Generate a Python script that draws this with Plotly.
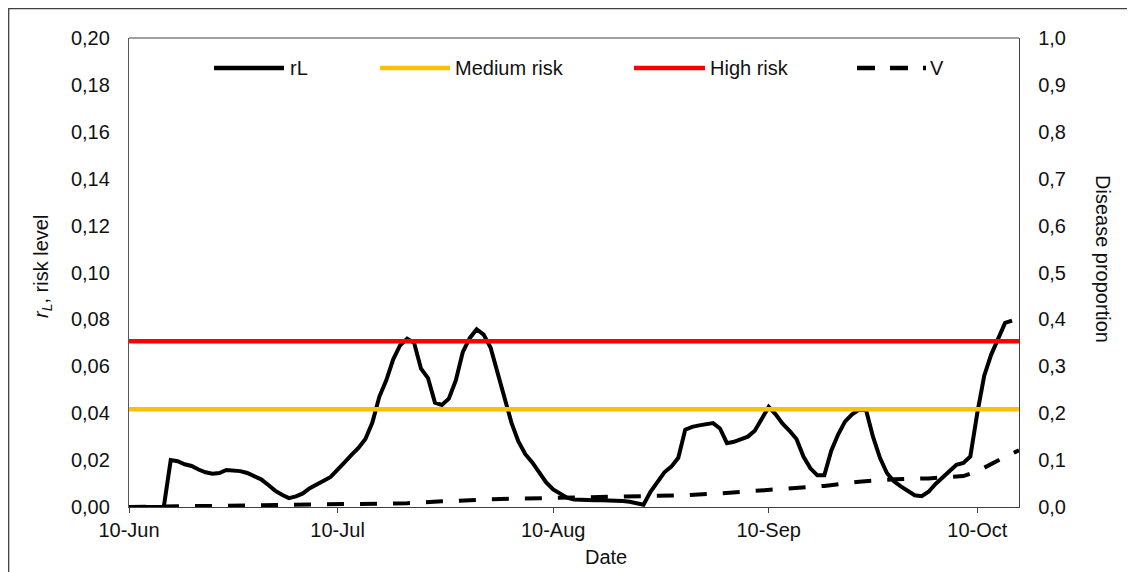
import pandas as pd
import plotly.graph_objects as go

# ---------------- data ----------------
start_date = "2020-06-10"
end_date = "2020-10-16"

rl_values = [
    0.0, 0.0, 0.0, 0.0, 0.0, 0.0, 0.0200, 0.0195, 0.0182, 0.0175,
    0.0160, 0.0148, 0.0142, 0.0145, 0.0158, 0.0156, 0.0153, 0.0145, 0.0133, 0.0118,
    0.0095, 0.0070, 0.0052, 0.0038, 0.0045, 0.0058, 0.0080, 0.0098, 0.0112, 0.0128,
    0.0157, 0.0190, 0.0222, 0.0252, 0.0290, 0.0360, 0.0470, 0.0540, 0.0630, 0.0690,
    0.0718, 0.0700, 0.0590, 0.0550, 0.0445, 0.0435, 0.0462, 0.0540, 0.0660, 0.0720,
    0.0758, 0.0735, 0.0680, 0.0570, 0.0460, 0.0360, 0.0280, 0.0225, 0.0190, 0.0145,
    0.0105, 0.0075, 0.0055, 0.0040, 0.0032, 0.0030, 0.0029, 0.0029, 0.0029, 0.0029,
    0.0029, 0.0026, 0.0022, 0.0016, 0.0010, 0.0065, 0.0110, 0.0148, 0.0172, 0.0210,
    0.0330, 0.0342, 0.0348, 0.0352, 0.0358, 0.0335, 0.0272, 0.0278, 0.0290, 0.0300,
    0.0325, 0.0375, 0.0427, 0.0395, 0.0355, 0.0325, 0.0290, 0.0215, 0.0165, 0.0135,
    0.0135, 0.0240, 0.0310, 0.0365, 0.0395, 0.0415, 0.0414, 0.0300, 0.0210, 0.0145,
    0.0110, 0.0088, 0.0068, 0.0050, 0.0046, 0.0065, 0.0098, 0.0125, 0.0155, 0.0180,
    0.0188, 0.0215, 0.0400, 0.0560, 0.0650, 0.0720, 0.0785, 0.0795,
]

v_dates = [
    "2020-06-10", "2020-06-15", "2020-06-20", "2020-06-25", "2020-06-30",
    "2020-07-05", "2020-07-10", "2020-07-15", "2020-07-20", "2020-07-25",
    "2020-07-30", "2020-08-04", "2020-08-09", "2020-08-14", "2020-08-19",
    "2020-08-24", "2020-08-29", "2020-09-03", "2020-09-08", "2020-09-13",
    "2020-09-18", "2020-09-23", "2020-09-28", "2020-10-03", "2020-10-08",
    "2020-10-10", "2020-10-12", "2020-10-14", "2020-10-16",
]
v_values = [
    0.000, 0.001, 0.002, 0.002, 0.003,
    0.003, 0.004, 0.006, 0.008, 0.012,
    0.016, 0.018, 0.019, 0.020, 0.021,
    0.023, 0.025, 0.029, 0.035, 0.040,
    0.045, 0.054, 0.059, 0.061, 0.066,
    0.076, 0.092, 0.107, 0.121,
]

medium_level = [0.0417, 0.0417]
high_level = [0.0707, 0.0707]
level_dates = [start_date, end_date]

tick_dates = ["2020-06-10", "2020-07-10", "2020-08-10", "2020-09-10", "2020-10-10"]
tick_labels = ["10-Jun", "10-Jul", "10-Aug", "10-Sep", "10-Oct"]

rl_dates = pd.date_range(start_date, periods=len(rl_values), freq="D")

# ---------------- figure ----------------
FONT = "Liberation Sans, Arial, sans-serif"
TXT = "#111111"
FS = 20

fig = go.Figure()
fig.add_trace(go.Scatter(x=rl_dates, y=rl_values, mode="lines", name="rL",
                         line=dict(color="black", width=4)))
fig.add_trace(go.Scatter(x=level_dates, y=medium_level, mode="lines", name="Medium risk",
                         line=dict(color="#FFC000", width=4.5)))
fig.add_trace(go.Scatter(x=level_dates, y=high_level, mode="lines", name="High risk",
                         line=dict(color="#FF0000", width=4.5)))
fig.add_trace(go.Scatter(x=v_dates, y=v_values, mode="lines", name="V", yaxis="y2",
                         line=dict(color="black", width=4, dash="17px,16px")))

# page has an 8px body margin: figure drawn from page (8, 8)
OFF = 8
W, H = 1135 - OFF, 572 - OFF
PLOT_L, PLOT_R, PLOT_T, PLOT_B = 129, 1019, 38, 507  # page pixels
ML, MT = PLOT_L - OFF, PLOT_T - OFF
PW, PH = PLOT_R - PLOT_L, PLOT_B - PLOT_T
MR = W - ML - PW
MB = H - MT - PH

def px(x):
    return (x - PLOT_L) / PW

def py(y):
    return (PLOT_B - y) / PH

fig.update_layout(
    width=W, height=H,
    margin=dict(l=ML, r=MR, t=MT, b=MB, autoexpand=False),
    paper_bgcolor="white", plot_bgcolor="white",
    showlegend=False,
    separators=", ",
    font=dict(family=FONT, size=FS, color=TXT),
    xaxis=dict(
        type="date", range=[start_date, end_date],
        tickvals=tick_dates, ticktext=tick_labels,
        ticks="outside", ticklen=5, tickcolor="#404040", tickwidth=1.3,
        showline=True, linecolor="#404040", linewidth=1.3,
        showgrid=False, zeroline=False,
        tickfont=dict(size=FS, color=TXT, family=FONT),
        ticklabelstandoff=0,
    ),
    yaxis=dict(
        range=[0, 0.2], dtick=0.02, tick0=0, tickformat=".2f",
        showline=True, linecolor="#595959", linewidth=1.3,
        ticks="", showgrid=False, zeroline=False,
        tickfont=dict(size=FS, color=TXT, family=FONT),
        ticklabelstandoff=14,
    ),
    yaxis2=dict(
        range=[0, 1.0], dtick=0.1, tick0=0, tickformat=".1f",
        overlaying="y", side="right",
        showline=True, linecolor="#404040", linewidth=1.3,
        ticks="", showgrid=False, zeroline=False,
        tickfont=dict(size=FS, color=TXT, family=FONT),
        ticklabelstandoff=14,
    ),
)

shapes = []
# outer chart-area border (left and top edges visible; right/bottom run off the image)
shapes.append(dict(type="rect", xref="paper", yref="paper",
                   x0=px(OFF + 0.7), x1=px(1150), y0=py(OFF + 0.7), y1=py(590),
                   line=dict(color="#404040", width=1.3), layer="below"))
# plot-area top border
shapes.append(dict(type="line", xref="paper", yref="paper",
                   x0=0, x1=1, y0=1, y1=1,
                   line=dict(color="#808080", width=1.3)))

# manual legend
leg_y = py(68)
legend_items = [
    ("rL", "black", "solid", 214, 284, 288),
    ("Medium risk", "#FFC000", "solid", 380, 450, 453),
    ("High risk", "#FF0000", "solid", 634, 705, 708),
    ("V", "black", "18px,15px", 857, 926, 928),
]
annotations = []
for name, col, dash, x0, x1, xt in legend_items:
    shapes.append(dict(type="line", xref="paper", yref="paper",
                       x0=px(x0), x1=px(x1), y0=leg_y, y1=leg_y,
                       line=dict(color=col, width=4.5, dash=dash)))
    annotations.append(dict(text=name, xref="paper", yref="paper",
                            x=px(xt), y=leg_y, xanchor="left", yanchor="middle",
                            showarrow=False, font=dict(size=FS, color=TXT, family=FONT)))

# axis titles
annotations.append(dict(text="Date", xref="paper", yref="paper",
                        x=px(606), y=py(557), xanchor="center", yanchor="middle",
                        showarrow=False, font=dict(size=FS, color=TXT, family=FONT)))
annotations.append(dict(text="<i>r</i><sub><i>L</i></sub>, risk level", xref="paper", yref="paper",
                        x=px(42), y=py(267), xanchor="center", yanchor="middle", textangle=-90,
                        showarrow=False, font=dict(size=FS, color=TXT, family=FONT)))
annotations.append(dict(text="Disease proportion", xref="paper", yref="paper",
                        x=px(1103), y=py(259), xanchor="center", yanchor="middle", textangle=90,
                        showarrow=False, font=dict(size=FS, color=TXT, family=FONT)))

fig.update_layout(shapes=shapes, annotations=annotations)

fig.write_html("out.html")
